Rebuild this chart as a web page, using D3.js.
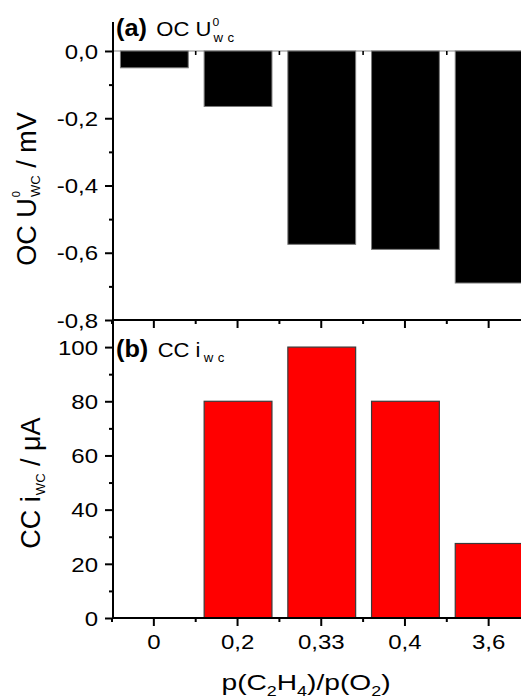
<!DOCTYPE html>
<html><head><meta charset="utf-8">
<script src="https://cdn.jsdelivr.net/npm/d3@7"></script>
<style>
body{margin:0;background:#fff}
svg{display:block}
text{font-family:"Liberation Sans",Arial,sans-serif;fill:#000}
</style>
</head><body>
<svg id="c" width="521" height="700"></svg>
<script>
const categories = ["0","0,2","0,33","0,4","3,6"];
const ocValues = [-0.05,-0.165,-0.575,-0.59,-0.69];
const ccValues = [0,80,100,80,27.5];
const ocTicks = [0,-0.2,-0.4,-0.6,-0.8];
const ocMinorTicks = [-0.1,-0.3,-0.5,-0.7];
const ccTicks = [0,20,40,60,80,100];
const ccMinorTicks = [10,30,50,70,90];

const svg = d3.select("#c");
const SX = 1.2;
const fmtOC = d => d3.format(".1f")(d).replace(".", ",").replace("\u2212", "-");
const pos = categories.map((c,i)=>i+1);
const bounds = pos.slice(0,-1).map(p=>p+0.5);

const xs = d3.scaleLinear().domain([0.5,5.5]).range([111.5,530]);
const yTop = d3.scaleLinear().domain([-0.8,0.0862]).range([320,22]);
const yBot = d3.scaleLinear().domain([0,110]).range([618,320]);
const bw = (xs(2)-xs(1))*0.81;
const AX = 113;

// top zero line with minor ticks
svg.append("line").attr("x1",AX).attr("x2",521).attr("y1",yTop(0)).attr("y2",yTop(0))
  .attr("stroke","#8a8a8a").attr("stroke-width",1.2);
const zt = svg.append("g").attr("transform",`translate(0,${yTop(0)})`)
  .call(d3.axisBottom(xs).tickValues(bounds).tickSize(4).tickSizeOuter(0).tickFormat(""));
zt.select(".domain").remove();
zt.selectAll(".tick line").attr("stroke","#000").attr("stroke-width",1.6);

// top bars
svg.append("g").selectAll("rect").data(ocValues).join("rect")
  .attr("x",(d,i)=>xs(pos[i])-bw/2+1).attr("width",bw)
  .attr("y",d=>yTop(0)).attr("height",d=>yTop(d)-yTop(0))
  .attr("fill","#000").attr("stroke","#7a7a7a").attr("stroke-width",1);

// bottom bars
svg.append("g").selectAll("rect").data(ccValues.map((v,i)=>({v,i})).filter(d=>d.v>0)).join("rect")
  .attr("x",d=>xs(pos[d.i])-bw/2+1).attr("width",bw)
  .attr("y",d=>yBot(d.v)).attr("height",d=>yBot(0)-yBot(d.v))
  .attr("fill","#ff0000").attr("stroke","#3a3a3a").attr("stroke-width",1.2);

// horizontal axes (y=320 and y=618)
function hAxis(y, labels){
  svg.append("line").attr("x1",AX).attr("x2",521).attr("y1",y).attr("y2",y)
    .attr("stroke","#000").attr("stroke-width",2);
  const gmaj = svg.append("g").attr("transform",`translate(0,${y})`)
    .call(d3.axisBottom(xs).tickValues(pos).tickSize(8).tickSizeOuter(0)
      .tickFormat(labels ? (d=>categories[d-1]) : ""));
  gmaj.select(".domain").remove();
  gmaj.selectAll(".tick line").attr("stroke","#000").attr("stroke-width",2);
  gmaj.selectAll(".tick text").attr("font-size",20).attr("y",31).attr("dy",0)
    .attr("transform",`scale(${SX},1)`).style("font-family",'"Liberation Sans",Arial,sans-serif');
  const gmin = svg.append("g").attr("transform",`translate(0,${y})`)
    .call(d3.axisBottom(xs).tickValues([0.5].concat(bounds)).tickSize(4).tickSizeOuter(0).tickFormat(""));
  gmin.select(".domain").remove();
  gmin.selectAll(".tick line").attr("stroke","#000").attr("stroke-width",2);
}
hAxis(320,false);
hAxis(618,true);

// vertical axis line
svg.append("line").attr("x1",AX).attr("x2",AX).attr("y1",22).attr("y2",619)
  .attr("stroke","#000").attr("stroke-width",2);

function vAxis(scale, ticks, minor, fmt){
  const g = svg.append("g").attr("transform",`translate(${AX},0)`)
    .call(d3.axisLeft(scale).tickValues(ticks).tickSize(8).tickSizeOuter(0).tickFormat(fmt));
  g.select(".domain").remove();
  g.selectAll(".tick line").attr("stroke","#000").attr("stroke-width",2);
  g.selectAll(".tick text").attr("font-size",20).attr("x",-15/SX).attr("dy","0.36em")
    .attr("transform",`scale(${SX},1)`).style("font-family",'"Liberation Sans",Arial,sans-serif');
  const gm = svg.append("g").attr("transform",`translate(${AX},0)`)
    .call(d3.axisLeft(scale).tickValues(minor).tickSize(4).tickSizeOuter(0).tickFormat(""));
  gm.select(".domain").remove();
  gm.selectAll(".tick line").attr("stroke","#000").attr("stroke-width",2);
}
vAxis(yTop, ocTicks, ocMinorTicks, fmtOC);
vAxis(yBot, ccTicks, ccMinorTicks, d=>String(d));

// panel labels
function panelLabel(x, y, tag, main, sup, sub){
  const g = svg.append("g").attr("transform",`translate(${x},${y}) scale(1.1,1)`);
  const t = g.append("text").attr("x",0).attr("y",0).attr("font-size",20);
  t.append("tspan").attr("font-weight","bold").attr("font-size",23).text(tag);
  t.append("tspan").attr("dx",3).text(" "+main);
  if (sup){
    t.append("tspan").attr("font-size",11).attr("dy",-10).attr("dx",1).text(sup);
    t.append("tspan").attr("font-size",12).attr("dx",-5).attr("dy",16)
      .attr("letter-spacing",4).text(sub);
  } else {
    t.append("tspan").attr("font-size",12).attr("dx",3).attr("dy",5)
      .attr("letter-spacing",4).text(sub);
  }
}
panelLabel(116,36,"(a)","OC U","0","wc");
panelLabel(116,357,"(b)","CC i",null,"wc");

// y axis titles
function yTitle(x, y, parts){
  const t = svg.append("text").attr("transform",`translate(${x},${y}) rotate(-90)`)
    .attr("text-anchor","middle").attr("font-size",27);
  parts.forEach(p=>{
    const s = t.append("tspan").text(p.t);
    if (p.fs) s.attr("font-size",p.fs);
    if (p.dx!=null) s.attr("dx",p.dx);
    if (p.dy!=null) s.attr("dy",p.dy);
  });
}
yTitle(36,189,[{t:"OC U"},{t:"0",fs:11,dy:-16,dx:1},{t:"WC",fs:13,dx:-6,dy:20},{t:" / mV",dy:-4}]);
yTitle(40,483,[{t:"CC i"},{t:"WC",fs:13,dx:1,dy:5},{t:" / \u03bcA",dy:-5}]);

// x title
const xt = svg.append("g").attr("transform",`translate(306,690) scale(1.28,1)`)
  .append("text").attr("text-anchor","middle").attr("font-size",22);
[["p(C",0],["2",1],["H",-1],["4",1],[")/p(O",-1],["2",1],[")",-1]].forEach(([s,k])=>{
  const sp = xt.append("tspan").text(s);
  if (k===1) sp.attr("font-size",14).attr("dy",6);
  if (k===-1) sp.attr("dy",-6);
});
</script>
</body></html>
